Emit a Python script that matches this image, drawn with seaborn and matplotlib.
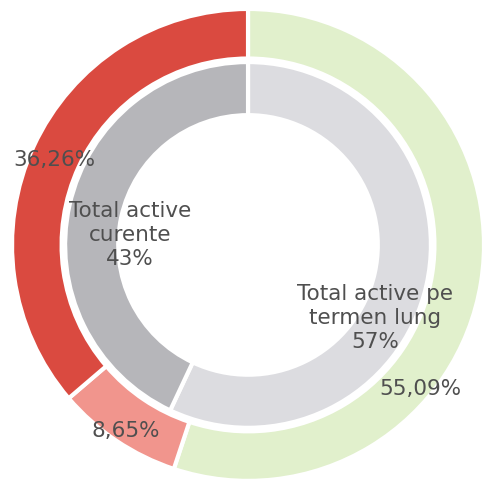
import matplotlib
matplotlib.use("Agg")
import matplotlib.pyplot as plt
import seaborn as sns

sns.set_theme(style="white")
plt.rcParams['font.family'] = ['DejaVu Sans']

# Date
outer_labels = ["55,09%", "8,65%", "36,26%"]
outer_values = [55.09, 8.65, 36.26]
outer_colors = ["#e1f0cc", "#f1958d", "#da4a40"]

inner_labels = ["Total active pe\ntermen lung\n57%", "Total active\ncurente\n43%"]
inner_values = [57, 43]
inner_colors = ["#dcdce0", "#b6b6ba"]

fig = plt.figure(figsize=(4.84, 4.79), dpi=100)
ax = fig.add_axes([0, 0, 1, 1])

# inel exterior
ax.pie(outer_values, colors=outer_colors, radius=1.0, startangle=90, counterclock=False,
       wedgeprops=dict(width=0.21, edgecolor="white", linewidth=3))
# inel interior
ax.pie(inner_values, colors=inner_colors, radius=0.775, startangle=90, counterclock=False,
       wedgeprops=dict(width=0.225, edgecolor="white", linewidth=3))

txt = dict(color="#4f4f4f", fontsize=15.5, ha="center", va="center")
outer_pos = [(0.73, -0.61), (-0.52, -0.79), (-0.82, 0.36)]
for lab, (x, y) in zip(outer_labels, outer_pos):
    ax.text(x, y, lab, **txt)
inner_pos = [(0.54, -0.31), (-0.50, 0.04)]
for lab, (x, y) in zip(inner_labels, inner_pos):
    ax.text(x, y, lab, linespacing=1.25, **txt)

ax.set_xlim(-1.051, 1.0)
ax.set_ylim(-0.992, 1.038)
ax.set_aspect("auto")
ax.axis("off")

fig.savefig("out.png", dpi=100)
